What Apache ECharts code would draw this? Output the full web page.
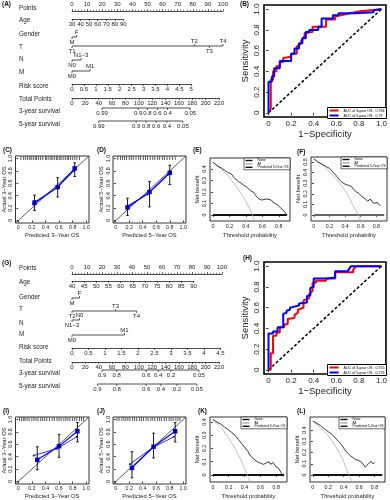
<!DOCTYPE html>
<html><head><meta charset="utf-8">
<script src="https://cdn.jsdelivr.net/npm/echarts@6.0.0/dist/echarts.min.js"></script>
<style>html,body{margin:0;padding:0;background:#fff;}#chart{width:390px;height:500px;}</style>
</head><body><div id="chart"></div>
<script>
// ================= DATA =================
// (A) nomogram – training cohort
const nomA_ageRange = [30, 90];
const nomA_agePoints = [0, 34];
const nomA_genderLabels = ['M', 'F'];
const nomA_genderPoints = [0, 3];
const nomA_TLabels = ['T1', 'T2', 'T3', 'T4'];
const nomA_TPoints = [0, 81, 91, 100];
const nomA_NLabels = ['N0', 'N1\u22123'];
const nomA_NPoints = [0, 6];
const nomA_MLabels = ['M0', 'M1'];
const nomA_MPoints = [0, 12];
const nomA_riskRange = [0, 5];
const nomA_riskPoints = [0, 79];
const nomA_surv3Labels = ['0.99', '0.9', '0.8', '0.6', '0.4', '0.05'];
const nomA_surv3Total = [45, 99, 113, 128, 143, 177];
const nomA_surv5Labels = ['0.99', '0.9', '0.8', '0.6', '0.4', '0.05'];
const nomA_surv5Total = [40, 96, 111, 126, 142, 166];
// (G) nomogram – validation cohort
const nomG_ageRange = [40, 90];
const nomG_agePoints = [0, 81];
const nomG_genderLabels = ['M', 'F'];
const nomG_genderPoints = [0, 5];
const nomG_TLabels = ['T2', 'T3', 'T4'];
const nomG_TPoints = [0, 29, 43];
const nomG_NLabels = ['N1\u22123', 'N0'];
const nomG_NPoints = [0, 5];
const nomG_MLabels = ['M0', 'M1'];
const nomG_MPoints = [0, 35];
const nomG_riskRange = [0, 4.5];
const nomG_riskPoints = [0, 99];
const nomG_surv3Labels = ['0.9', '0.8', '0.6', '0.4', '0.2', '0.05'];
const nomG_surv3Total = [45, 67, 111, 129, 148, 190];
const nomG_surv5Labels = ['0.9', '0.8', '0.6', '0.4', '0.2', '0.05'];
const nomG_surv5Total = [38, 67, 111, 133, 157, 187];
const nomRowNames = ['Points', 'Age', 'Gender', 'T', 'N', 'M', 'Risk score', 'Total Points', '3-year survival', '5-year survival'];

// ROC curves [1-specificity, sensitivity]
const rocB_3yr = [[0,0],[0.02,0.04],[0.02,0.32],[0.04,0.32],[0.04,0.40],[0.07,0.40],[0.07,0.45],[0.10,0.45],[0.10,0.49],[0.13,0.49],[0.13,0.53],[0.20,0.54],[0.20,0.57],[0.25,0.57],[0.25,0.64],[0.29,0.67],[0.29,0.70],[0.32,0.74],[0.32,0.77],[0.39,0.78],[0.39,0.83],[0.51,0.83],[0.51,0.90],[0.59,0.90],[0.59,0.93],[0.68,0.95],[0.68,0.96],[0.81,0.98],[1,1]];
const rocB_5yr = [[0,0],[0,0.30],[0.03,0.30],[0.03,0.35],[0.05,0.35],[0.05,0.43],[0.10,0.43],[0.10,0.50],[0.20,0.50],[0.20,0.57],[0.23,0.57],[0.23,0.62],[0.27,0.62],[0.27,0.67],[0.30,0.67],[0.30,0.72],[0.33,0.72],[0.33,0.78],[0.36,0.78],[0.36,0.80],[0.44,0.80],[0.44,0.83],[0.47,0.83],[0.47,0.91],[0.57,0.91],[0.57,0.94],[0.62,0.94],[0.62,0.96],[0.77,0.96],[0.77,0.97],[0.93,0.97],[0.93,0.99],[1,1]];
const rocH_3yr = [[0,0],[0.02,0],[0.02,0.16],[0.04,0.16],[0.04,0.33],[0.07,0.33],[0.07,0.36],[0.10,0.36],[0.10,0.41],[0.14,0.41],[0.14,0.44],[0.17,0.44],[0.17,0.49],[0.23,0.50],[0.23,0.53],[0.26,0.55],[0.26,0.58],[0.31,0.60],[0.31,0.67],[0.36,0.69],[0.36,0.73],[0.39,0.76],[0.39,0.84],[0.42,0.84],[0.42,0.86],[0.51,0.86],[0.51,0.88],[0.59,0.88],[0.59,0.94],[0.75,0.94],[0.75,0.97],[0.78,1],[1,1]];
const rocH_5yr = [[0,0],[0,0.35],[0.04,0.35],[0.04,0.37],[0.08,0.37],[0.08,0.41],[0.13,0.41],[0.13,0.54],[0.16,0.55],[0.16,0.57],[0.19,0.58],[0.19,0.60],[0.27,0.62],[0.27,0.64],[0.34,0.65],[0.34,0.71],[0.37,0.72],[0.37,0.79],[0.40,0.80],[0.40,0.88],[0.52,0.88],[0.52,0.89],[0.59,0.89],[0.59,0.95],[0.70,0.95],[0.73,1],[1,1]];
const rocB_names = ['AUC of 3-year OS:  0.784', 'AUC of 5-year OS:  0.79'];
const rocH_names = ['AUC of 3-year OS:  0.755', 'AUC of 5-year OS:  0.776'];

// Calibration: [predicted, observed]; error bars [predicted, low, high]
const calC_groups = [[0.24,0.29],[0.58,0.54],[0.83,0.84]];
const calC_apparent = [[0.22,0.26],[0.56,0.52],[0.82,0.80]];
const calC_err = [[0.24,0.16,0.41],[0.58,0.38,0.69],[0.83,0.71,0.93]];
const calC_rug = [0.04,0.08,0.11,0.14,0.17,0.19,0.22,0.25,0.27,0.30,0.33,0.36,0.40,0.42,0.45,0.48,0.50,0.53,0.56,0.58,0.61,0.63,0.66,0.69,0.72,0.74,0.77,0.80,0.83,0.86,0.90];
const calD_groups = [[0.175,0.21],[0.50,0.46],[0.80,0.77]];
const calD_apparent = [[0.16,0.23],[0.47,0.42],[0.78,0.74]];
const calD_err = [[0.175,0.08,0.36],[0.50,0.22,0.63],[0.80,0.58,0.89]];
const calD_rug = [0.03,0.07,0.10,0.13,0.16,0.20,0.23,0.26,0.30,0.34,0.37,0.41,0.44,0.47,0.51,0.55,0.58,0.62,0.65,0.69,0.72,0.76,0.80,0.84,0.88];
const calI_groups = [[0.28,0.35],[0.60,0.57],[0.87,0.81]];
const calI_apparent = [[0.23,0.42],[0.57,0.53],[0.86,0.72]];
const calI_err = [[0.28,0.19,0.56],[0.60,0.39,0.76],[0.87,0.64,0.95]];
const calI_rug = [0.02,0.05,0.08,0.10,0.13,0.16,0.20,0.23,0.26,0.29,0.33,0.36,0.39,0.42,0.46,0.50,0.53,0.57,0.60,0.63,0.67,0.70,0.73,0.76,0.80,0.83,0.86,0.90,0.93,0.96];
const calJ_groups = [[0.24,0.22],[0.56,0.56],[0.88,0.81]];
const calJ_apparent = [[0.21,0.28],[0.55,0.55],[0.86,0.72]];
const calJ_err = [[0.24,0.06,0.48],[0.56,0.38,0.78],[0.88,0.64,0.95]];
const calJ_rug = [0.02,0.05,0.09,0.12,0.15,0.18,0.21,0.25,0.28,0.31,0.35,0.38,0.41,0.45,0.48,0.52,0.55,0.58,0.62,0.65,0.68,0.72,0.75,0.79,0.82,0.85,0.89,0.92,0.95];

// Decision curves [threshold, net benefit]
const dcaE_model = [[0,0.46],[0.05,0.43],[0.10,0.41],[0.14,0.39],[0.18,0.37],[0.22,0.36],[0.25,0.33],[0.28,0.31],[0.31,0.29],[0.34,0.28],[0.37,0.26],[0.40,0.25],[0.43,0.23],[0.46,0.21],[0.49,0.20],[0.51,0.18],[0.53,0.16],[0.56,0.14],[0.59,0.13],[0.62,0.135],[0.65,0.14],[0.68,0.135],[0.71,0.13],[0.73,0.11],[0.75,0.10],[0.78,0.09],[0.81,0.07],[0.84,0.05],[0.87,0.03],[0.89,0.01],[0.90,0.0]];
const dcaE_all = [[0,0.46],[0.05,0.43],[0.10,0.40],[0.15,0.365],[0.20,0.325],[0.25,0.28],[0.30,0.23],[0.35,0.18],[0.40,0.12],[0.45,0.05],[0.50,-0.04],[0.55,-0.14]];
const dcaF_model = [[0,0.53],[0.05,0.50],[0.10,0.48],[0.15,0.46],[0.20,0.44],[0.25,0.40],[0.30,0.36],[0.33,0.33],[0.36,0.31],[0.40,0.29],[0.44,0.28],[0.48,0.27],[0.51,0.24],[0.54,0.22],[0.58,0.20],[0.62,0.17],[0.66,0.15],[0.69,0.13],[0.72,0.15],[0.75,0.12],[0.78,0.11],[0.81,0.12],[0.83,0.10],[0.85,0.09]];
const dcaF_all = [[0,0.53],[0.10,0.48],[0.20,0.41],[0.30,0.33],[0.40,0.23],[0.45,0.17],[0.50,0.09],[0.55,0.03],[0.60,-0.06],[0.65,-0.20]];
const dcaK_model = [[0,0.42],[0.05,0.40],[0.10,0.385],[0.15,0.36],[0.20,0.34],[0.24,0.32],[0.28,0.30],[0.32,0.27],[0.36,0.24],[0.40,0.21],[0.44,0.18],[0.48,0.14],[0.52,0.12],[0.56,0.10],[0.60,0.09],[0.64,0.08],[0.67,0.09],[0.69,0.08],[0.71,0.10],[0.73,0.08],[0.76,0.095],[0.78,0.09],[0.80,0.06],[0.83,0.05],[0.86,0.02],[0.89,-0.01]];
const dcaK_all = [[0,0.42],[0.10,0.36],[0.20,0.28],[0.30,0.18],[0.35,0.12],[0.40,0.05],[0.45,-0.02],[0.50,-0.12]];
const dcaL_model = [[0,0.48],[0.05,0.46],[0.10,0.44],[0.15,0.41],[0.20,0.385],[0.25,0.36],[0.29,0.33],[0.33,0.30],[0.37,0.27],[0.40,0.24],[0.43,0.21],[0.46,0.19],[0.49,0.17],[0.52,0.155],[0.55,0.14],[0.59,0.13],[0.62,0.12],[0.65,0.10],[0.68,0.07],[0.70,0.085],[0.72,0.10],[0.74,0.11],[0.76,0.12],[0.78,0.10],[0.80,0.11]];
const dcaL_all = [[0,0.48],[0.10,0.42],[0.20,0.35],[0.30,0.25],[0.35,0.19],[0.40,0.12],[0.45,0.03],[0.50,-0.05],[0.55,-0.16]];
const dcaNone = [[0,0],[0.9,0]];
const unitTicks = [0, 0.2, 0.4, 0.6, 0.8, 1.0];
const threshTicks = [0, 0.2, 0.4, 0.6, 0.8];
const nb4Ticks = [0, 0.1, 0.2, 0.3, 0.4];
const nb5Ticks = [0, 0.1, 0.2, 0.3, 0.4, 0.5];

// ================= BUILD =================
const FONT = '"Liberation Sans", Arial, Helvetica, sans-serif';
const INK = '#222';
const grids = [], xAxes = [], yAxes = [], series = [], graphics = [], legends = [];
const fmt1 = v => (Math.abs(v) < 1e-9 ? '0' : (+v).toFixed(1));

function addGrid(g, xa, ya) {
  const i = grids.length;
  grids.push(g);
  xAxes.push(Object.assign({ gridIndex: i }, xa));
  yAxes.push(Object.assign({ gridIndex: i }, ya));
  return i;
}
function text(x, y, t, o) {
  graphics.push({ type: 'text', x: x, y: y, silent: true,
    style: Object.assign({ text: t, fontSize: 6.3, fontFamily: FONT, fill: INK, verticalAlign: 'middle', align: 'left' }, o || {}) });
}
// native numeric nomogram scale
function axisRow(left, width, y, min, max, interval, pos, minor) {
  addGrid({ left: left, top: pos === 'top' ? y : y - 2, width: width, height: 2 },
    { type: 'value', min: min, max: max, interval: interval, position: pos,
      axisLine: { show: true, lineStyle: { color: INK, width: 0.8 } },
      axisTick: { show: true, length: 2, lineStyle: { color: INK, width: 0.7 } },
      minorTick: minor ? { show: true, splitNumber: minor, length: 1.3, lineStyle: { color: INK, width: 0.6 } } : { show: false },
      axisLabel: { fontSize: 6, fontFamily: FONT, color: INK, margin: 2 },
      splitLine: { show: false } },
    { type: 'value', show: false, min: 0, max: 1 });
}
// labelled row (categories / survival probabilities)
function labelRow(left, width, y, min, max, vals, labels, sides) {
  const gi = addGrid({ left: left, top: y - 1, width: width, height: 2 },
    { type: 'value', min: min, max: max, show: false },
    { type: 'value', min: -1, max: 1, show: false });
  series.push({ type: 'line', xAxisIndex: gi, yAxisIndex: gi, silent: true, symbol: 'none',
    data: [[Math.min.apply(null, vals), 0], [Math.max.apply(null, vals), 0]],
    lineStyle: { color: INK, width: 0.8 } });
  series.push({ type: 'custom', xAxisIndex: gi, yAxisIndex: gi, silent: true,
    data: vals.map(v => [v, 0]),
    renderItem: (params, api) => {
      const i = params.dataIndex;
      const p = api.coord([api.value(0), 0]);
      const up = sides[i] > 0;
      return { type: 'group', children: [
        { type: 'line', shape: { x1: p[0], y1: p[1], x2: p[0], y2: p[1] + (up ? -2 : 2) }, style: { stroke: INK, lineWidth: 0.7 } },
        { type: 'text', x: p[0], y: p[1] + (up ? -2 : 2),
          style: { text: labels[i], fontSize: 6, fontFamily: FONT, fill: INK, align: 'center', verticalAlign: up ? 'bottom' : 'top' } }
      ] };
    } });
}
function nomogram(L, D) {
  const sc = (L.x100 - L.x0) / 100;
  const px = p => L.x0 + p * sc;
  const ly = L.lineY;
  nomRowNames.forEach((n, i) => text(L.nameX, L.nameY[i], n));
  axisRow(L.x0, 100 * sc, ly[0], 0, 100, 10, 'top', 5);
  axisRow(px(D.agePts[0]), (D.agePts[1] - D.agePts[0]) * sc, ly[1], D.age[0], D.age[1], D.ageStep, 'bottom', 0);
  labelRow(L.x0, 100 * sc, ly[2], 0, 100, D.gPts, D.gLab, L.sides.g);
  labelRow(L.x0, 100 * sc, ly[3], 0, 100, D.tPts, D.tLab, L.sides.t);
  labelRow(L.x0, 100 * sc, ly[4], 0, 100, D.nPts, D.nLab, L.sides.n);
  labelRow(L.x0, 100 * sc, ly[5], 0, 100, D.mPts, D.mLab, L.sides.m);
  axisRow(px(D.riskPts[0]), (D.riskPts[1] - D.riskPts[0]) * sc, ly[6], D.risk[0], D.risk[1], 0.5, 'bottom', 0);
  axisRow(L.x0, L.t220 - L.x0, ly[7], 0, 220, 20, 'bottom', 4);
  labelRow(L.x0, L.t220 - L.x0, ly[8], 0, 220, D.s3Tot, D.s3Lab, D.s3Lab.map(() => -1));
  labelRow(L.x0, L.t220 - L.x0, ly[9], 0, 220, D.s5Tot, D.s5Lab, D.s5Lab.map(() => -1));
}

nomogram(
  { x0: 72, x100: 223, t220: 219, nameX: 19,
    lineY: [9, 19, 37, 46, 60, 71, 84, 98, 108, 121],
    nameY: [8, 20, 34, 47, 59, 72, 86, 99, 111, 124],
    sides: { g: [-1, 1], t: [-1, 1, -1, 1], n: [-1, 1], m: [-1, 1] } },
  { age: nomA_ageRange, agePts: nomA_agePoints, ageStep: 10,
    gLab: nomA_genderLabels, gPts: nomA_genderPoints, tLab: nomA_TLabels, tPts: nomA_TPoints,
    nLab: nomA_NLabels, nPts: nomA_NPoints, mLab: nomA_MLabels, mPts: nomA_MPoints,
    risk: nomA_riskRange, riskPts: nomA_riskPoints,
    s3Lab: nomA_surv3Labels, s3Tot: nomA_surv3Total, s5Lab: nomA_surv5Labels, s5Tot: nomA_surv5Total });
nomogram(
  { x0: 72, x100: 222, t220: 219, nameX: 19,
    lineY: [272, 281, 298, 311, 320, 335, 348, 362, 370, 384],
    nameY: [268, 282, 297, 309, 323, 334, 347, 361, 373, 386],
    sides: { g: [-1, 1], t: [-1, 1, -1], n: [-1, 1], m: [-1, 1] } },
  { age: nomG_ageRange, agePts: nomG_agePoints, ageStep: 5,
    gLab: nomG_genderLabels, gPts: nomG_genderPoints, tLab: nomG_TLabels, tPts: nomG_TPoints,
    nLab: nomG_NLabels, nPts: nomG_NPoints, mLab: nomG_MLabels, mPts: nomG_MPoints,
    risk: nomG_riskRange, riskPts: nomG_riskPoints,
    s3Lab: nomG_surv3Labels, s3Tot: nomG_surv3Total, s5Lab: nomG_surv5Labels, s5Tot: nomG_surv5Total });

// generic framed plot
function plotPanel(box, o) {
  const tickStyle = { color: '#000', width: 0.8 };
  const lab = { formatter: fmt1, fontSize: o.fs, fontFamily: FONT, color: INK };
  const nts = { fontSize: o.nfs, fontFamily: FONT, color: INK };
  return addGrid(
    { left: box[0], top: box[1], width: box[2], height: box[3], show: true, borderColor: '#000', borderWidth: o.bw, backgroundColor: 'rgba(0,0,0,0)' },
    { type: 'value', min: o.x[0], max: o.x[1], splitLine: { show: false }, axisLine: { show: false },
      axisTick: { show: true, customValues: o.xt, length: o.tick, lineStyle: tickStyle },
      axisLabel: Object.assign({ customValues: o.xt, margin: o.xm }, lab),
      name: o.xn, nameLocation: 'middle', nameGap: o.xg, nameTextStyle: nts },
    { type: 'value', min: o.y[0], max: o.y[1], splitLine: { show: false }, axisLine: { show: false },
      axisTick: { show: true, customValues: o.yt, length: o.tick, lineStyle: tickStyle },
      axisLabel: Object.assign({ customValues: o.yt, margin: o.ym, rotate: 90 }, lab),
      name: o.yn, nameLocation: 'middle', nameGap: o.yg, nameTextStyle: nts });
}

// ROC panels
function roc(box, d3, d5, names) {
  const gi = plotPanel(box, { x: [-0.04, 1.04], y: [-0.04, 1.04], xt: unitTicks, yt: unitTicks, fs: 8, nfs: 9.5,
    tick: 2.5, xm: 3, ym: 3, xg: 11, yg: 14, bw: 1.6, xn: '1\u2212Specificity', yn: 'Sensitivity' });
  series.push({ type: 'line', xAxisIndex: gi, yAxisIndex: gi, symbol: 'none', silent: true, data: [[0, 0], [1, 1]],
    lineStyle: { color: '#000', width: 1.5, type: [3, 2] } });
  series.push({ name: names[0], type: 'line', xAxisIndex: gi, yAxisIndex: gi, symbol: 'none', data: d3, color: '#ff0000',
    lineStyle: { color: '#ff0000', width: 2 } });
  series.push({ name: names[1], type: 'line', xAxisIndex: gi, yAxisIndex: gi, symbol: 'none', data: d5, color: '#0000ff',
    lineStyle: { color: '#0000ff', width: 2 } });
  legends.push({ data: names, right: 390 - (box[0] + box[2]) + 0.5, top: box[1] + box[3] - 9.5, orient: 'vertical',
    icon: 'rect', itemWidth: 9, itemHeight: 2, itemGap: 1, padding: [1, 2, 1, 2], borderColor: '#000', borderWidth: 1,
    backgroundColor: '#fff', selectedMode: false, textStyle: { fontSize: 3.6, fontFamily: FONT, color: '#000' } });
}
roc([264, 5, 123, 112], rocB_3yr, rocB_5yr, rocB_names);
roc([264, 262, 123, 112], rocH_3yr, rocH_5yr, rocH_names);

// Calibration panels
function calib(box, groups, apparent, err, rug, yr) {
  const gi = plotPanel(box, { x: [-0.04, 1.04], y: [-0.04, 1.04], xt: unitTicks, yt: unitTicks, fs: 5.3, nfs: 5.8,
    tick: 1.8, xm: 2.2, ym: 2, xg: 9, yg: 8.5, bw: 0.8,
    xn: 'Predicted ' + yr + '\u2212Year OS', yn: 'Actual ' + yr + '\u2212Year OS' });
  series.push({ type: 'line', xAxisIndex: gi, yAxisIndex: gi, symbol: 'none', silent: true, data: [[-0.04, -0.04], [1.04, 1.04]],
    lineStyle: { color: '#333', width: 0.8 } });
  series.push({ type: 'custom', xAxisIndex: gi, yAxisIndex: gi, silent: true, data: rug.map(v => [v]),
    renderItem: (p, api) => {
      const a = api.coord([api.value(0), 1.035]), b = api.coord([api.value(0), 0.975]);
      return { type: 'line', shape: { x1: a[0], y1: a[1], x2: b[0], y2: b[1] }, style: { stroke: '#111', lineWidth: 0.7 } };
    } });
  series.push({ type: 'line', xAxisIndex: gi, yAxisIndex: gi, silent: true, data: apparent, symbol: 'circle', symbolSize: 2,
    itemStyle: { color: '#0000ff' }, lineStyle: { color: '#0000ff', width: 0.8 } });
  series.push({ type: 'line', xAxisIndex: gi, yAxisIndex: gi, silent: true, data: groups, symbol: 'rect', symbolSize: 4.5,
    itemStyle: { color: '#0000ff' }, lineStyle: { color: '#0000ff', width: 1.2 } });
  series.push({ type: 'custom', xAxisIndex: gi, yAxisIndex: gi, silent: true, data: err, z: 5,
    renderItem: (p, api) => {
      const a = api.coord([api.value(0), api.value(1)]), b = api.coord([api.value(0), api.value(2)]);
      const st = { stroke: '#000', lineWidth: 0.9 };
      return { type: 'group', children: [
        { type: 'line', shape: { x1: a[0], y1: a[1], x2: b[0], y2: b[1] }, style: st },
        { type: 'line', shape: { x1: a[0] - 1.3, y1: a[1], x2: a[0] + 1.3, y2: a[1] }, style: st },
        { type: 'line', shape: { x1: b[0] - 1.3, y1: b[1], x2: b[0] + 1.3, y2: b[1] }, style: st }
      ] };
    } });
}
calib([15, 156, 74, 67], calC_groups, calC_apparent, calC_err, calC_rug, '3');
calib([113, 156, 73, 67], calD_groups, calD_apparent, calD_err, calD_rug, '5');
calib([15, 417, 74, 67], calI_groups, calI_apparent, calI_err, calI_rug, '3');
calib([113, 417, 73, 67], calJ_groups, calJ_apparent, calJ_err, calJ_rug, '5');

// Decision curve panels
function dca(box, yr, yt, model, all, noneColor) {
  const gi = plotPanel(box, { x: [-0.036, 0.936], y: yr, xt: threshTicks, yt: yt, fs: 5.3, nfs: 5.8,
    tick: 1.8, xm: 3, ym: 2.5, xg: 11, yg: 10, bw: 0.8, xn: 'Threshold probability', yn: 'Net benefit' });
  series.push({ name: 'None', type: 'line', xAxisIndex: gi, yAxisIndex: gi, symbol: 'none', data: dcaNone, color: '#111', z: 3,
    lineStyle: { color: noneColor, width: 2 } });
  series.push({ name: 'All', type: 'line', xAxisIndex: gi, yAxisIndex: gi, symbol: 'none', data: all, color: '#aaa',
    lineStyle: { color: '#b0b0b0', width: 0.8 } });
  series.push({ name: model.label, type: 'line', xAxisIndex: gi, yAxisIndex: gi, symbol: 'none', data: model.data, color: '#111',
    lineStyle: { color: '#222', width: 0.9 } });
  legends.push({ data: ['None', 'All', model.label], right: 390 - (box[0] + box[2]), top: box[1], orient: 'vertical',
    icon: 'rect', itemWidth: 7, itemHeight: 1.4, itemGap: 0.4, padding: [1, 1.5, 1, 1.5], borderColor: '#000', borderWidth: 0.6,
    backgroundColor: '#fff', selectedMode: false, textStyle: { fontSize: 3.4, fontFamily: FONT, color: '#000' } });
}
dca([210, 158, 80, 63], [-0.052, 0.496], nb4Ticks, { label: 'Predicted 3-Year OS', data: dcaE_model }, dcaE_all, '#111');
dca([311, 157, 76, 64], [-0.057, 0.547], nb5Ticks, { label: 'Predicted 5-Year OS', data: dcaF_model }, dcaF_all, '#666');
dca([210, 417, 77, 65], [-0.053, 0.438], nb4Ticks, { label: 'Predicted 3-Year OS', data: dcaK_model }, dcaK_all, '#111');
dca([310, 417, 75, 65], [-0.062, 0.515], nb4Ticks, { label: 'Predicted 5-Year OS', data: dcaL_model }, dcaL_all, '#111');

// panel letters
[['(A)', 2, 4], ['(B)', 240, 4], ['(C)', 3, 150], ['(D)', 97, 150], ['(E)', 193, 150], ['(F)', 297, 152],
 ['(G)', 2, 263], ['(H)', 243, 258], ['(I)', 3, 411], ['(J)', 97, 411], ['(K)', 198, 411], ['(L)', 297, 411]]
  .forEach(a => text(a[1], a[2], a[0], { fontSize: 6.5, fontWeight: 'bold', fill: '#111' }));

const chart = echarts.init(document.getElementById('chart'), null, { renderer: 'canvas' });
chart.setOption({
  animation: false,
  backgroundColor: '#fff',
  grid: grids, xAxis: xAxes, yAxis: yAxes, series: series, legend: legends,
  graphic: { elements: graphics }
});
</script></body></html>
